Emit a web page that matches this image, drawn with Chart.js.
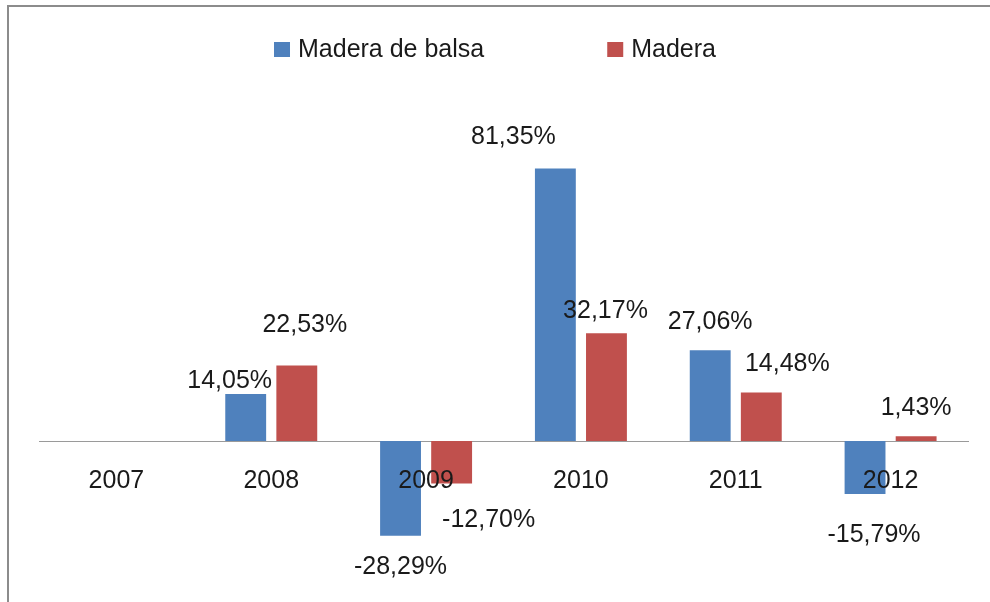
<!DOCTYPE html>
<html>
<head>
<meta charset="utf-8">
<script src="https://cdn.jsdelivr.net/npm/chart.js@4"></script>
<style>
  body { margin: 0; background: #fff; }
  #wrap { position: relative; width: 990px; height: 602px; }
  #frame { position: absolute; left: 7px; top: 5px; right: 0; bottom: 0;
           border-top: 2px solid #8c8c8c; border-left: 2px solid #8c8c8c; pointer-events: none; }
</style>
</head>
<body>
<div id="wrap">
  <canvas id="canvas" width="990" height="602"></canvas>
  <div id="frame"></div>
</div>
<script>
var years = ['2007', '2008', '2009', '2010', '2011', '2012'];
var balsa = [null, 14.05, -28.29, 81.35, 27.06, -15.79];
var madera = [null, 22.53, -12.70, 32.17, 14.48, 1.43];
var seriesNames = ['Madera de balsa', 'Madera'];

var FONT = '"Liberation Sans", Arial, sans-serif';

// labels were nudged by hand in the original, [dx, dy] from bar end
var labelShift = [
    [null, [-16, -13], [0, 31], [-42, -31], [0, -28], [9, 41]],
    [null, [8, -40], [37, 37], [-1, -22], [26, -28], [0, -28]]
];

var valueLabels = {
    id: 'valueLabels',
    afterDatasetsDraw: function(chart) {
        var ctx = chart.ctx;
        ctx.save();
        ctx.font = '25px ' + FONT;
        ctx.fillStyle = '#1a1a1a';
        ctx.textAlign = 'center';
        ctx.textBaseline = 'middle';
        chart.data.datasets.forEach(function(ds, i) {
            chart.getDatasetMeta(i).data.forEach(function(bar, j) {
                var v = ds.data[j];
                if (v === null) return;
                var s = labelShift[i][j] || [0, v >= 0 ? -28 : 32];
                ctx.fillText(v.toFixed(2).replace('.', ',') + '%', bar.x + s[0], bar.y + s[1]);
            });
        });
        ctx.restore();
    }
};

var topLegend = {
    id: 'topLegend',
    afterDraw: function(chart) {
        var ctx = chart.ctx;
        ctx.save();
        ctx.font = '25px ' + FONT;
        ctx.textBaseline = 'middle';
        var box = 16, gap = 8, spacing = 123, cy = 49.5;
        var widths = chart.data.datasets.map(function(ds) {
            return box + gap + ctx.measureText(ds.label).width;
        });
        var total = widths.reduce(function(a, b) { return a + b; }, 0) + spacing * (widths.length - 1);
        var x = chart.width / 2 - total / 2;
        chart.data.datasets.forEach(function(ds, i) {
            ctx.fillStyle = ds.backgroundColor;
            ctx.fillRect(x, cy - 7.5, box, 15);
            ctx.fillStyle = '#1a1a1a';
            ctx.textAlign = 'left';
            ctx.fillText(ds.label, x + box + gap, cy + 1);
            x += widths[i] + spacing;
        });
        ctx.restore();
    }
};

window.onload = function() {
    var ctx = document.getElementById('canvas').getContext('2d');
    window.chart = new Chart(ctx, {
        type: 'bar',
        data: {
            labels: years,
            datasets: [{
                label: seriesNames[0],
                backgroundColor: '#4F81BD',
                data: balsa
            }, {
                label: seriesNames[1],
                backgroundColor: '#C0504D',
                data: madera
            }]
        },
        options: {
            responsive: false,
            animation: false,
            categoryPercentage: 0.66,
            barPercentage: 0.8,
            layout: {
                padding: { left: 39, right: 22, top: 106, bottom: 27 }
            },
            scales: {
                x: {
                    position: { y: 0 },
                    grid: { display: false, drawTicks: false },
                    border: { display: true, color: '#9a9a9a', width: 1 },
                    ticks: {
                        z: 1,
                        padding: 25,
                        color: '#1a1a1a',
                        font: { family: FONT, size: 25 }
                    }
                },
                y: {
                    display: false,
                    min: -40,
                    max: 100
                }
            },
            plugins: {
                legend: { display: false },
                tooltip: { enabled: false }
            }
        },
        plugins: [valueLabels, topLegend]
    });
};
</script>
</body>
</html>
